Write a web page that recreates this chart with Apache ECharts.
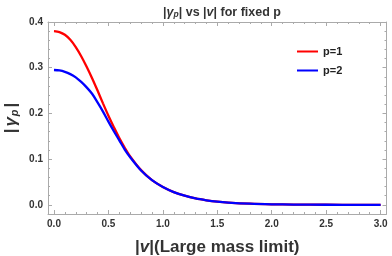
<!DOCTYPE html>
<html><head><meta charset="utf-8">
<script src="https://cdn.jsdelivr.net/npm/echarts@6/dist/echarts.min.js"></script>
<style>html,body{margin:0;padding:0;background:#fff}#c{width:392px;height:256px}</style>
</head><body><div id="c"></div>
<script>
const vValues = [0, 0.05, 0.1, 0.15, 0.2, 0.25, 0.3, 0.35, 0.4, 0.45, 0.5, 0.55, 0.6, 0.65, 0.7, 0.8, 0.9, 1.0, 1.1, 1.2, 1.3, 1.4, 1.5, 1.6, 1.8, 2.0, 2.2, 2.5, 2.8, 3.0];
const gammaP1 = [0.380, 0.378, 0.372, 0.361, 0.345, 0.325, 0.302, 0.277, 0.250, 0.222, 0.195, 0.170, 0.146, 0.125, 0.106, 0.076, 0.054, 0.039, 0.028, 0.020, 0.014, 0.010, 0.007, 0.005, 0.0025, 0.0012, 0.0006, 0.0002, 0.0001, 0.0];
const gammaP2 = [0.295, 0.294, 0.291, 0.286, 0.279, 0.269, 0.257, 0.243, 0.224, 0.204, 0.182, 0.161, 0.141, 0.121, 0.104, 0.075, 0.054, 0.039, 0.028, 0.020, 0.014, 0.010, 0.007, 0.005, 0.0025, 0.0012, 0.0006, 0.0002, 0.0001, 0.0];
const seriesNames = ['p=1', 'p=2'];
const xTickMin = 0, xTickMax = 3.0, xTickStep = 0.5;
const yTickMin = 0, yTickMax = 0.4, yTickStep = 0.1;
const xRange = [-0.055, 3.054];
const yRange = [-0.02, 0.4];

const frameColor = '#aaaaaa';
const labelColor = '#333333';
const font = 'Liberation Sans, Arial, sans-serif';

const G = { left: 48, right: 5.5, top: 22, bottom: 42, containLabel: false, outerBoundsMode: 'none' };
const W = 392, H = 256;
const plotW = W - G.left - G.right, plotH = H - G.top - G.bottom;
const xPx = v => G.left + (v - xRange[0]) / (xRange[1] - xRange[0]) * plotW;
const yPx = v => G.top + (yRange[1] - v) / (yRange[1] - yRange[0]) * plotH;
const tickGrid = {
  left: xPx(xTickMin), right: W - xPx(xTickMax),
  top: yPx(yTickMax), bottom: H - yPx(yTickMin),
  containLabel: false, outerBoundsMode: 'none'
};
const offX = H - G.bottom - yPx(yTickMin);
const offY = xPx(xTickMin) - G.left;
const offR = (W - G.right) - xPx(xTickMax);
const offT = yPx(yTickMax) - G.top;

function frameAxis(extra) {
  return Object.assign({
    type: 'value', axisLine: { show: true, onZero: false, lineStyle: { color: frameColor, width: 1 } },
    axisTick: { show: false }, minorTick: { show: false }, splitLine: { show: false }, axisLabel: { show: false }
  }, extra);
}
function tickAxis(extra, showLabels) {
  return Object.assign({
    type: 'value', gridIndex: 1,
    axisLine: { show: false, onZero: false },
    axisTick: { show: true, inside: true, length: 4, lineStyle: { color: frameColor } },
    minorTick: { show: true, splitNumber: 5, length: 2, lineStyle: { color: frameColor } },
    splitLine: { show: false },
    axisLabel: { show: showLabels, color: labelColor, fontWeight: 'bold', fontSize: 10, fontFamily: font, margin: 5,
      formatter: v => v.toFixed(1) }
  }, extra);
}

const chart = echarts.init(document.getElementById('c'), null, { renderer: 'canvas' });
chart.setOption({
  animation: false,
  backgroundColor: '#ffffff',
  title: {
    text: '|{g|γ}{s|p}| vs |{g|v}| for fixed p',
    left: 217, top: 1, textAlign: 'center',
    textStyle: { fontSize: 12.5, fontWeight: 'bold', color: labelColor, fontFamily: font,
      rich: {
        g: { fontSize: 12.5, fontWeight: 'bold', fontStyle: 'italic', color: labelColor, fontFamily: font },
        s: { fontSize: 8.5, fontWeight: 'bold', fontStyle: 'italic', color: labelColor, fontFamily: font, verticalAlign: 'bottom', padding: [4, 0, 0, 0] }
      } }
  },
  legend: {
    orient: 'vertical', left: 292, top: 41, itemGap: 8, itemWidth: 21, itemHeight: 2, icon: 'rect',
    data: seriesNames,
    textStyle: { fontSize: 11, fontWeight: 'bold', color: '#222', fontFamily: font }
  },
  grid: [G, tickGrid],
  xAxis: [
    frameAxis({ min: xRange[0], max: xRange[1], position: 'bottom',
      name: '|{g|v}|(Large mass limit)', nameLocation: 'middle', nameGap: 25,
      nameTextStyle: { fontSize: 17, fontWeight: 'bold', color: labelColor, fontFamily: font,
        rich: { g: { fontSize: 17, fontWeight: 'bold', fontStyle: 'italic', color: labelColor, fontFamily: font } } } }),
    frameAxis({ min: xRange[0], max: xRange[1], position: 'top' }),
    tickAxis({ min: xTickMin, max: xTickMax, interval: xTickStep, position: 'bottom', offset: offX }, true),
    tickAxis({ min: xTickMin, max: xTickMax, interval: xTickStep, position: 'top', offset: offT }, false)
  ],
  yAxis: [
    frameAxis({ min: yRange[0], max: yRange[1], position: 'left',
      name: '|{g|γ}{s|p}|', nameLocation: 'middle', nameGap: 28, nameRotate: 90,
      nameTextStyle: { fontSize: 17, fontWeight: 'bold', color: labelColor, fontFamily: font,
        rich: {
          g: { fontSize: 17, fontWeight: 'bold', fontStyle: 'italic', color: labelColor, fontFamily: font, padding: [0, 1, 0, 2] },
          s: { fontSize: 11, fontWeight: 'bold', fontStyle: 'italic', color: labelColor, fontFamily: font, verticalAlign: 'bottom', padding: [7, 2, 0, 0] }
        } } }),
    frameAxis({ min: yRange[0], max: yRange[1], position: 'right' }),
    tickAxis({ min: yTickMin, max: yTickMax, interval: yTickStep, position: 'left', offset: offY }, true),
    tickAxis({ min: yTickMin, max: yTickMax, interval: yTickStep, position: 'right', offset: offR }, false)
  ],
  series: [
    { name: seriesNames[0], type: 'line', xAxisIndex: 0, yAxisIndex: 0, smooth: 0.3, symbol: 'none', color: '#ff0000',
      lineStyle: { width: 2.3, color: '#ff0000' },
      data: vValues.map((v, i) => [v, gammaP1[i]]) },
    { name: seriesNames[1], type: 'line', xAxisIndex: 0, yAxisIndex: 0, smooth: 0.3, symbol: 'none', color: '#0000ff',
      lineStyle: { width: 2.3, color: '#0000ff' },
      data: vValues.map((v, i) => [v, gammaP2[i]]) }
  ]
});
</script></body></html>
